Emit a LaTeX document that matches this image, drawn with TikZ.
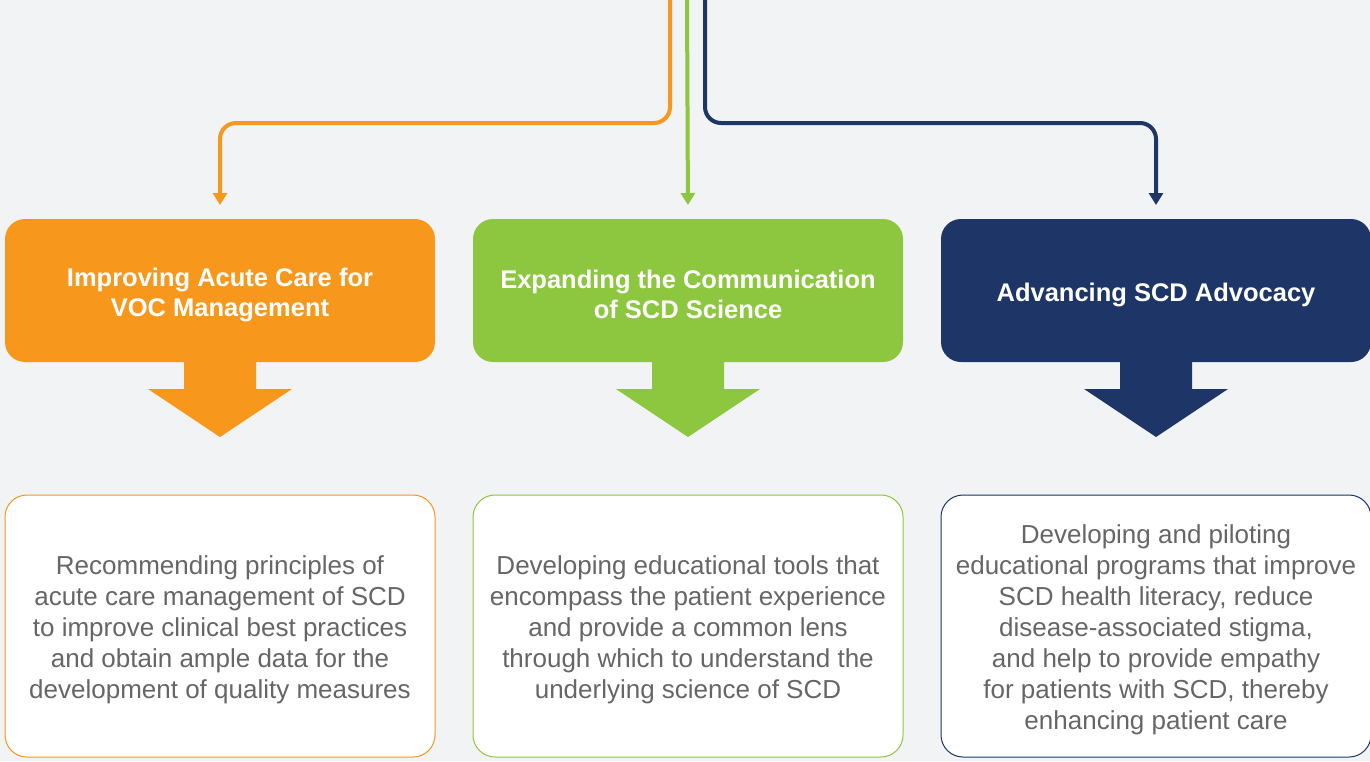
\documentclass[tikz,border=0pt]{standalone}
\usepackage{fontspec}
\setmainfont{Liberation Sans}
\usetikzlibrary{arrows.meta,positioning}
\definecolor{scdorange}{HTML}{F7981D}
\definecolor{scdgreen}{HTML}{8DC63F}
\definecolor{scdnavy}{HTML}{1D3567}
\definecolor{scdgrey}{HTML}{666666}
\definecolor{scdback}{HTML}{F2F3F5}
\newcommand{\lift}{\rule{0pt}{1.05em}}

\begin{document}
\begin{tikzpicture}[x=1pt,y=1pt,>={Triangle[width=14pt,length=12pt]},
                    node distance=468pt,line width=4pt]
  \tikzstyle{goal}=[rounded corners=20pt,minimum width=430pt,minimum height=143pt,
                    text=white,align=center,font=\fontsize{25.5}{30}\selectfont\bfseries]
  \tikzstyle{aim}=[rounded corners=22pt,draw,line width=1pt,fill=white,minimum width=430pt,
                   minimum height=262pt,text=scdgrey,align=center,font=\fontsize{26}{31}\selectfont]
  \tikzstyle{link}=[->,shorten >=12pt,rounded corners=16pt]

  \fill[scdback] (0,0) rectangle (1370,-761);
  \useasboundingbox (0,0) rectangle (1370,-761);

  \node[goal,fill=scdorange] (goalA) at (220,-290.5) {\lift Improving Acute Care for\\VOC Management};
  \node[goal,fill=scdgreen]  (goalB) [right of=goalA] {\lift Expanding the Communication\\of SCD Science};
  \node[goal,fill=scdnavy]   (goalC) [right of=goalB] {\lift Advancing SCD Advocacy};

  \node[aim,draw=scdorange,node distance=335.5pt] (aimA) [below of=goalA]
    {\lift Recommending principles of\\acute care management of SCD\\to improve clinical best practices\\and obtain ample data for the\\development of quality measures};
  \node[aim,draw=scdgreen,node distance=335.5pt]  (aimB) [below of=goalB]
    {\lift Developing educational tools that\\encompass the patient experience\\and provide a common lens\\through which to understand the\\underlying science of SCD};
  \node[aim,draw=scdnavy,node distance=335.5pt]   (aimC) [below of=goalC]
    {\lift Developing and piloting\\educational programs that improve\\SCD health literacy, reduce\\disease-associated stigma,\\and help to provide empathy\\for patients with SCD, thereby\\enhancing patient care};

  % block arrows between the two rows
  \foreach \g/\c in {goalA/scdorange,goalB/scdgreen,goalC/scdnavy}
    \fill[\c,shift={(\g.south)}] (-36,2) -- (-36,-25) -- (-72,-25) -- (0,-73)
                                  -- (72,-25) -- (36,-25) -- (36,2) -- cycle;

  \coordinate (srcA) at (670,0);
  \coordinate (srcB) at (687,0);
  \coordinate (srcC) at (705,0);

  \draw[link,scdorange] (srcA) -- ++(0,-123) -| (goalA.north);
  \draw[link,scdgreen]  (srcB) -- (goalB.north);
  \draw[link,scdnavy]   (srcC) -- ++(0,-123) -| (goalC.north);
\end{tikzpicture}
\end{document}
